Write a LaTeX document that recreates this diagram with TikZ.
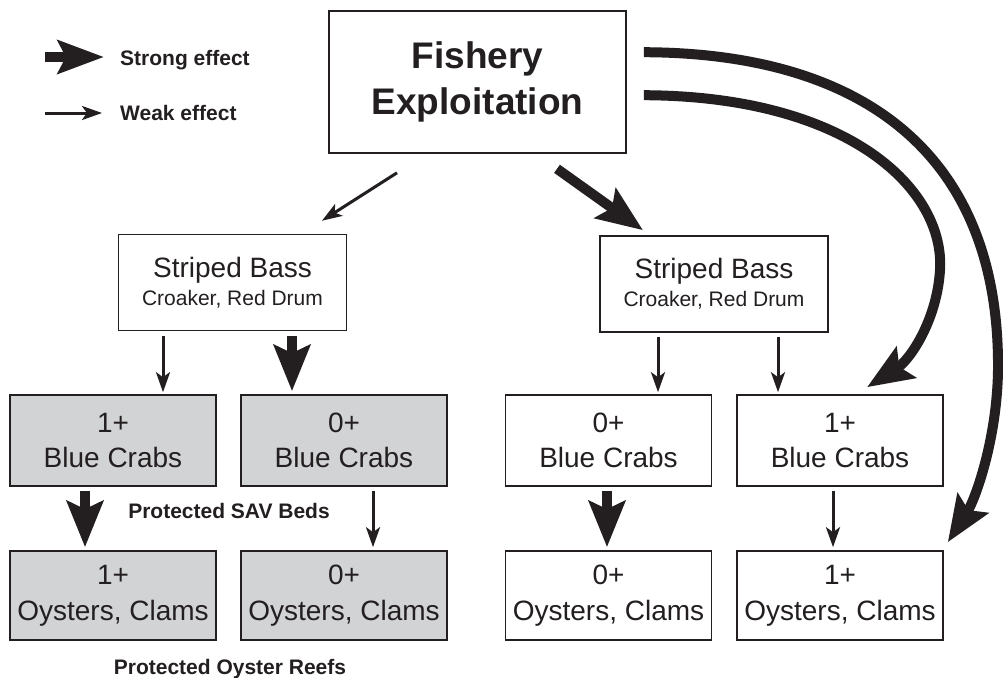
\documentclass[tikz,border=0pt]{standalone}
\usepackage{fontspec}
\setmainfont{Liberation Sans}
\usetikzlibrary{arrows.meta}
\definecolor{ink}{RGB}{35,31,32}
\definecolor{shade}{RGB}{209,211,212}
\begin{document}
\begin{tikzpicture}[x=1pt,y=-1pt,
  box/.style={draw=ink,line width=1.6pt,rectangle,inner sep=0pt,align=center,text=ink},
  crab/.style={box,minimum width=206pt,minimum height=91pt,font=\fontsize{28}{35}\selectfont},
  oys/.style={box,minimum width=206pt,minimum height=89pt,font=\fontsize{28}{36}\selectfont},
  bass/.style={box,minimum width=228pt,minimum height=96pt,font=\fontsize{28}{28}\selectfont},
  shaded/.style={fill=shade},
  weak/.style={draw=ink,line width=3pt,-{Stealth[length=20pt,width=14pt,inset=5pt]}},
  strong/.style={draw=ink,line width=10pt,-{Stealth[length=46pt,width=36pt,inset=8pt]}},
  lbl/.style={font=\bfseries\fontsize{21}{21}\selectfont,text=ink,inner sep=0pt}
]
\useasboundingbox[fill=white] (0,0) rectangle (1003,677);

% nodes
\node[box,minimum width=297pt,minimum height=142pt,font=\bfseries\fontsize{37}{46}\selectfont] (fish) at (477.5,82) {Fishery\\Exploitation};
\node[bass] (lsb) at (232.5,282.5) {Striped Bass\\\fontsize{21}{28}\selectfont Croaker, Red Drum};
\node[bass] (rsb) at (714,284) {Striped Bass\\\fontsize{21}{28}\selectfont Croaker, Red Drum};

\node[crab,shaded] (l1c) at (113,440.5) {1+\\Blue Crabs};
\node[crab,shaded] (l0c) at (344,440.5) {0+\\Blue Crabs};
\node[crab] (r0c) at (608.5,440.5) {0+\\Blue Crabs};
\node[crab] (r1c) at (840,440.5) {1+\\Blue Crabs};

\node[oys,shaded] (l1o) at (113,595.5) {1+\\Oysters, Clams};
\node[oys,shaded] (l0o) at (344,595.5) {0+\\Oysters, Clams};
\node[oys] (r0o) at (608.5,595.5) {0+\\Oysters, Clams};
\node[oys] (r1o) at (840,595.5) {1+\\Oysters, Clams};

% legend
\coordinate (ls1) at (45,57);
\coordinate (ls2) at (104,57);
\coordinate (lw1) at (45,113);
\coordinate (lw2) at (102,113);
\draw[strong,-{Stealth[length=46pt,width=33pt,inset=8pt]}] (ls1) -- (ls2);
\draw[weak] (lw1) -- (lw2);
\node[lbl,anchor=base west] (tstrong) at (120,65) {Strong effect};
\node[lbl,anchor=base west] (tweak) at (120,120) {Weak effect};

\node[lbl,anchor=base] (sav) at (229,518) {Protected SAV Beds};
\node[lbl,anchor=base] (reef) at (230,674) {Protected Oyster Reefs};

% fishery to bass
\draw[weak] ([xshift=-80.5pt,yshift=-19pt]fish.south) -- ([xshift=89.5pt,yshift=13pt]lsb.north);
\draw[strong] ([xshift=79.5pt,yshift=-15pt]fish.south) -- ([xshift=-71pt,yshift=5pt]rsb.north);

% bass to crabs
\draw[weak] ([xshift=-69.5pt,yshift=-5pt]lsb.south) -- ([xshift=50pt,yshift=2pt]l1c.north);
\draw[strong] ([xshift=59.5pt,yshift=-5pt]lsb.south) -- ([xshift=-52pt,yshift=3pt]l0c.north);
\draw[weak] ([xshift=-56pt,yshift=-4pt]rsb.south) -- ([xshift=49.5pt,yshift=2pt]r0c.north);
\draw[weak] ([xshift=64pt,yshift=-4pt]rsb.south) -- ([xshift=-62pt,yshift=2pt]r1c.north);

% crabs to oysters
\draw[strong] ([xshift=-28pt,yshift=-4pt]l1c.south) -- ([xshift=-28pt,yshift=3pt]l1o.north);
\draw[weak] ([xshift=29pt,yshift=-4pt]l0c.south) -- ([xshift=29pt,yshift=3pt]l0o.north);
\draw[strong] ([xshift=-1.5pt,yshift=-4pt]r0c.south) -- ([xshift=-1.5pt,yshift=3pt]r0o.north);
\draw[weak] ([xshift=-7pt,yshift=-4pt]r1c.south) -- ([xshift=-7pt,yshift=3pt]r1o.north);

% curved strong arrows
\draw[strong] ([xshift=17pt,yshift=-42pt]fish.north east)
  .. controls (870,53) and (1000,160) .. (998,370)
  .. controls (997,440) and (975,500) .. ([xshift=4pt,yshift=8pt]r1o.north east);
\draw[strong] ([xshift=17pt,yshift=-85pt]fish.north east)
  .. controls (850,96) and (945,190) .. (940,270)
  .. controls (937,320) and (910,360) .. ([xshift=27pt,yshift=7pt]r1c.north);
\end{tikzpicture}
\end{document}
